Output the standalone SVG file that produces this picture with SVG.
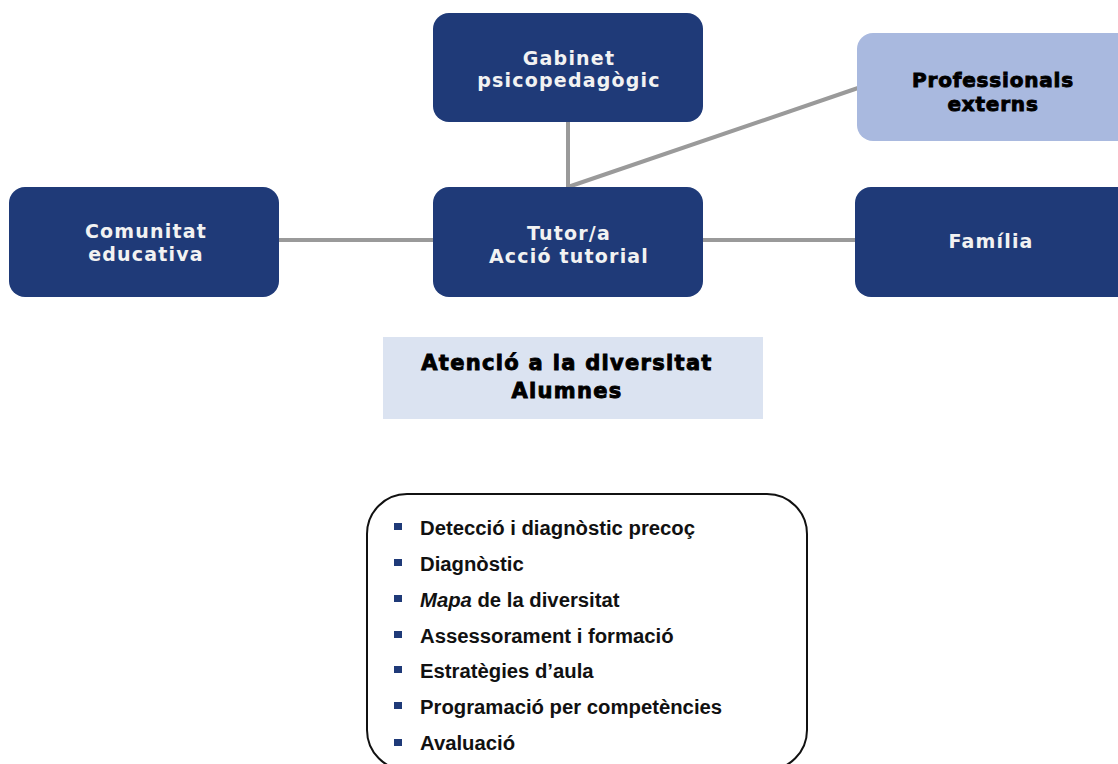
<svg xmlns="http://www.w3.org/2000/svg" width="1118" height="764" viewBox="0 0 1118 764">
<style>
.nav{fill:#1f3a78}
.lt{fill:#a9b9df}
.wt{font-family:"DejaVu Sans",Verdana,sans-serif;font-weight:bold;font-size:19px;letter-spacing:1.2px;fill:#f2f2f2;text-anchor:middle}
.bk{font-family:"DejaVu Sans",Verdana,sans-serif;font-weight:bold;font-size:20px;letter-spacing:0.8px;fill:#000;stroke:#000;stroke-width:0.9px;text-anchor:middle}
.li{font-family:"Liberation Sans",Arial,sans-serif;font-weight:bold;font-size:20.3px;fill:#111}
.bul{fill:#1f3a78}
.con{stroke:#9a9a9a;stroke-width:4;fill:none}
</style>
<rect width="1118" height="764" fill="#fff"/>
<g id="connectors">
<line class="con" x1="568" y1="122" x2="568" y2="187"/>
<line class="con" x1="568" y1="187" x2="858" y2="88"/>
<line class="con" x1="279" y1="240" x2="433" y2="240"/>
<line class="con" x1="703" y1="240" x2="856" y2="240"/>
</g>
<g id="gabinet">
<rect class="nav" x="433" y="13" width="270" height="109" rx="16"/>
<text class="wt" x="569" y="65">Gabinet</text>
<text class="wt" x="569" y="87">psicopedagògic</text>
</g>
<g id="professionals">
<rect class="lt" x="857" y="33" width="275" height="108" rx="16"/>
<text class="bk" x="993" y="87">Professionals</text>
<text class="bk" x="993" y="111">externs</text>
</g>
<g id="comunitat">
<rect class="nav" x="9" y="187" width="270" height="110" rx="16"/>
<text class="wt" x="146" y="238">Comunitat</text>
<text class="wt" x="146" y="261">educativa</text>
</g>
<g id="tutor">
<rect class="nav" x="433" y="187" width="270" height="110" rx="16"/>
<text class="wt" x="569" y="240">Tutor/a</text>
<text class="wt" x="569" y="263">Acció tutorial</text>
</g>
<g id="familia">
<rect class="nav" x="855" y="187" width="280" height="110" rx="16"/>
<text class="wt" x="991" y="248">Família</text>
</g>
<g id="atencio">
<rect x="383" y="337" width="380" height="82" fill="#dbe3f1"/>
<text class="bk" x="567" y="370" style="font-size:21px;letter-spacing:1.3px">Atenció a la diversitat</text>
<text class="bk" x="567" y="398" style="font-size:21px;letter-spacing:1.3px">Alumnes</text>
</g>
<g id="llista">
<rect x="367" y="494" width="440" height="276" rx="40" fill="none" stroke="#111" stroke-width="2"/>
<rect class="bul" x="394" y="523" width="8" height="7"/>
<rect class="bul" x="394" y="559" width="8" height="7"/>
<rect class="bul" x="394" y="595" width="8" height="7"/>
<rect class="bul" x="394" y="631" width="8" height="7"/>
<rect class="bul" x="394" y="666" width="8" height="7"/>
<rect class="bul" x="394" y="702" width="8" height="7"/>
<rect class="bul" x="394" y="739" width="8" height="7"/>
<text class="li" x="420" y="535">Detecció i diagnòstic precoç</text>
<text class="li" x="420" y="571">Diagnòstic</text>
<text class="li" x="420" y="607"><tspan font-style="italic">Mapa</tspan> de la diversitat</text>
<text class="li" x="420" y="643">Assessorament i formació</text>
<text class="li" x="420" y="678">Estratègies d’aula</text>
<text class="li" x="420" y="714">Programació per competències</text>
<text class="li" x="420" y="750">Avaluació</text>
</g>
</svg>
